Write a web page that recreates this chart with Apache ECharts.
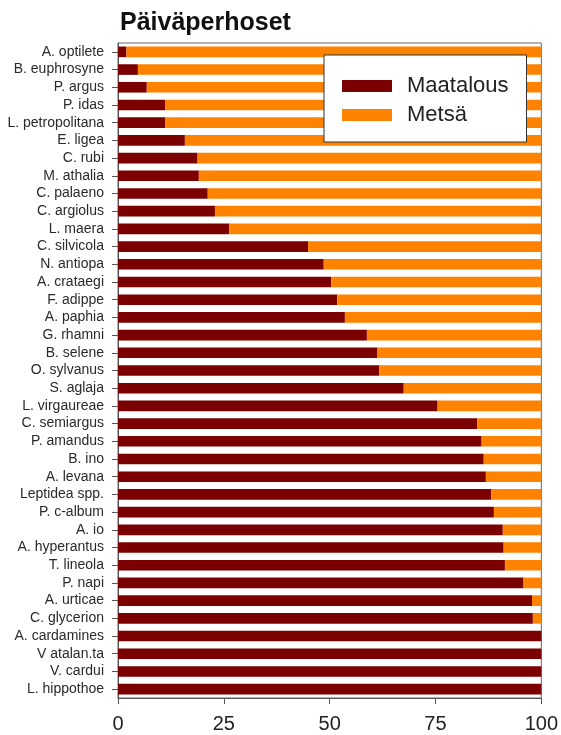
<!DOCTYPE html>
<html>
<head>
<meta charset="utf-8">
<script src="https://cdn.jsdelivr.net/npm/echarts@6/dist/echarts.min.js"></script>
<style>html,body{margin:0;padding:0;background:#fff}#c{width:561px;height:735px}</style>
</head>
<body>
<div id="c"></div>
<script>
const species = ["A. optilete","B. euphrosyne","P. argus","P. idas","L. petropolitana","E. ligea","C. rubi","M. athalia","C. palaeno","C. argiolus","L. maera","C. silvicola","N. antiopa","A. crataegi","F. adippe","A. paphia","G. rhamni","B. selene","O. sylvanus","S. aglaja","L. virgaureae","C. semiargus","P. amandus","B. ino","A. levana","Leptidea spp.","P. c-album","A. io","A. hyperantus","T. lineola","P. napi","A. urticae","C. glycerion","A. cardamines","V atalan.ta","V. cardui","L. hippothoe"];
const maatalous = [2,4.7,6.8,11.1,11.1,15.8,18.8,19.1,21.2,22.9,26.3,44.9,48.6,50.4,51.8,53.6,58.8,61.3,61.7,67.5,75.5,84.9,85.9,86.4,86.9,88.2,88.8,90.9,91.1,91.4,95.8,97.8,98.0,100,100,100,100];
const metsa = maatalous.map(v => +(100 - v).toFixed(1));
const xTicks = [0,25,50,75,100];

const chart = echarts.init(document.getElementById('c'), null, {renderer:'canvas'});
chart.setOption({
  animation:false,
  title:{text:'Päiväperhoset', left:115, top:6, textStyle:{fontFamily:'Liberation Sans', fontSize:25, fontWeight:'bold', color:'#111'}},
  grid:{left:118, right:18, top:43, bottom:37, show:true, borderColor:'#666', borderWidth:1, containLabel:false},
  legend:{
    data:['Maatalous','Metsä'], orient:'vertical', left:324, top:55,
    backgroundColor:'#fff', borderColor:'#333', borderWidth:1,
    padding:[19,18,15,18], itemWidth:50, itemHeight:12, itemGap:5, icon:'rect',
    textStyle:{fontFamily:'Liberation Sans', fontSize:22, color:'#222', lineHeight:24, padding:[0,0,0,10]}
  },
  xAxis:{type:'value', min:0, max:100, interval:25,
    axisLine:{show:true, lineStyle:{color:'#555'}},
    axisTick:{show:true, length:6, lineStyle:{color:'#555'}},
    splitLine:{show:false},
    axisLabel:{fontFamily:'Liberation Sans', fontSize:20, color:'#222', margin:16,
      formatter:v => xTicks.includes(v) ? String(v) : ''}
  },
  yAxis:{type:'category', data:species, inverse:true,
    axisLine:{show:true, lineStyle:{color:'#555'}},
    axisTick:{show:true, alignWithLabel:true, interval:0, length:6, lineStyle:{color:'#555'}},
    axisLabel:{interval:0, fontFamily:'Liberation Sans', fontSize:14, color:'#2a2a2a', margin:14}
  },
  series:[
    {name:'Maatalous', type:'bar', stack:'s', data:maatalous, barCategoryGap:'40%', itemStyle:{color:'#7b0000'}},
    {name:'Metsä', type:'bar', stack:'s', data:metsa, barCategoryGap:'40%', itemStyle:{color:'#ff8200'}}
  ]
});
</script>
</body>
</html>
